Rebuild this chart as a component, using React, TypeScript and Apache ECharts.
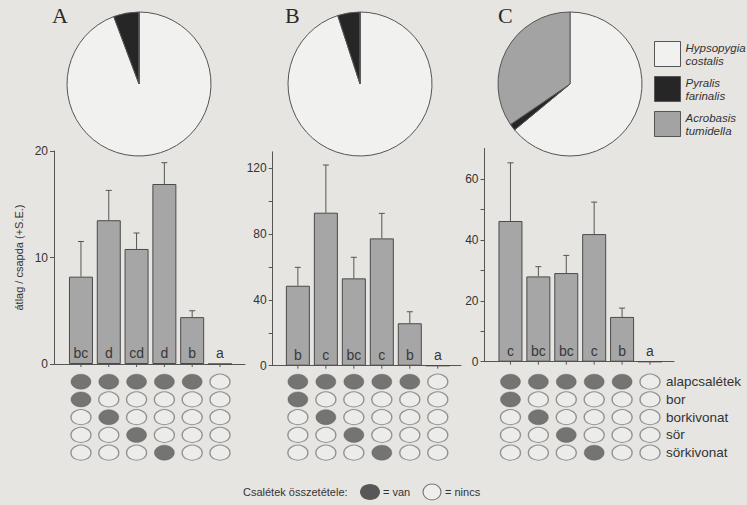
import React, { useEffect, useRef } from 'react';
import * as echarts from 'echarts';

// ---- data ----
const columns = [0, 1, 2, 3, 4, 5];
const meansA = [8.2, 13.5, 10.8, 16.9, 4.4, 0];
const seA = [3.3, 2.8, 1.5, 2.0, 0.6, 0];
const lettersA = ['bc', 'd', 'cd', 'd', 'b', 'a'];
const meansB = [48.6, 93, 53.1, 77.4, 25.8, 0];
const seB = [11.2, 29, 12.8, 15.2, 7, 0];
const lettersB = ['b', 'c', 'bc', 'c', 'b', 'a'];
const meansC = [46.2, 28, 29.1, 41.9, 14.7, 0];
const seC = [19.1, 3.2, 5.8, 10.5, 2.9, 0];
const lettersC = ['c', 'bc', 'bc', 'c', 'b', 'a'];
const species = ['Hypsopygia costalis', 'Pyralis farinalis', 'Acrobasis tumidella'];
const pieA = [94.3, 5.7, 0];
const pieB = [95, 5, 0];
const pieC = [64, 1.5, 34.5];
const ticksA = [0, 10, 20];
const labelsA = [0, 10, 20];
const ticksB = [0, 20, 40, 60, 80, 100, 120];
const labelsB = [0, 40, 80, 120];
const ticksC = [0, 10, 20, 30, 40, 50, 60];
const labelsC = [0, 20, 40, 60];
const baitRows = ['alapcsalétek', 'bor', 'borkivonat', 'sör', 'sörkivonat'];
const composition = [
  [1, 1, 1, 1, 1, 0],
  [1, 0, 0, 0, 0, 0],
  [0, 1, 0, 0, 0, 0],
  [0, 0, 1, 0, 0, 0],
  [0, 0, 0, 1, 0, 0],
];
const panelLetters = ['A', 'B', 'C'];
const yTitle = 'átlag / csapda (+S.E.)';
const legendTitle = 'Csalétek összetétele:';
const legendYes = '= van';
const legendNo = '= nincs';

const FONT = '"Liberation Sans", Arial, sans-serif';
const pieColors = ['#f1f1ef', '#262626', '#a3a3a3'];

export default function App() {
  const ref = useRef<HTMLDivElement>(null);
  useEffect(() => {
    if (!ref.current) return;
    const chart = echarts.init(ref.current, undefined, { renderer: 'svg' });

    const panels = [
      { means: meansA, se: seA, letters: lettersA, pie: pieA, ticks: ticksA, labels: labelsA,
        left: 54, right: 245, base: 364, top: 151, xmin: -0.97, xmax: 5.9, ymax: 20,
        pc: [139, 84], dotRight: 245, dotMax: 5.9 },
      { means: meansB, se: seB, letters: lettersB, pie: pieB, ticks: ticksB, labels: labelsB,
        left: 272.7, right: 461, base: 365.7, top: 151.85, xmin: -0.9, xmax: 5.83, ymax: 130,
        pc: [360, 84], dotRight: 461, dotMax: 5.83 },
      { means: meansC, se: seC, letters: lettersC, pie: pieC, ticks: ticksC, labels: labelsC,
        left: 484.5, right: 674, base: 361.7, top: 148.5, xmin: -0.93, xmax: 5.86, ymax: 70,
        pc: [570, 84], dotRight: 660, dotMax: 5.358 },
    ];

    const grid: any[] = [];
    const xAxis: any[] = [];
    const yAxis: any[] = [];
    const series: any[] = [];

    panels.forEach((p, k) => {
      grid.push({ left: p.left, top: p.top, width: p.right - p.left, height: p.base - p.top });
      xAxis.push({
        type: 'value', gridIndex: k, min: p.xmin, max: p.xmax,
        axisLine: { show: true, onZero: false, lineStyle: { color: '#555', width: 1 } },
        axisTick: { show: false }, axisLabel: { show: false }, splitLine: { show: false },
      });
      yAxis.push({
        type: 'value', gridIndex: k, min: 0, max: p.ymax, interval: p.ymax === 130 ? 20 : 10,
        name: k === 0 ? yTitle : '', nameLocation: 'middle', nameGap: 30, nameRotate: 90,
        nameTextStyle: { fontFamily: FONT, fontSize: 11, color: '#333' },
        axisLine: { show: true, onZero: false, lineStyle: { color: '#555', width: 1 } },
        axisTick: { show: true, length: 4, customValues: p.ticks, lineStyle: { color: '#555' } },
        axisLabel: {
          customValues: p.labels, fontFamily: FONT, fontSize: 12, color: '#333', margin: 6,
          formatter: (v: number) => (p.labels.includes(v) ? String(v) : ''),
        },
        splitLine: { show: false },
      });
      series.push({
        type: 'bar', xAxisIndex: k, yAxisIndex: k, barWidth: 24,
        data: columns.map((c) => [c, p.means[c]]),
        itemStyle: { color: '#a6a6a6', borderColor: '#4a4a4a', borderWidth: 1 },
        silent: true,
      });
      series.push({
        type: 'custom', xAxisIndex: k, yAxisIndex: k, silent: true, z: 5,
        data: columns.map((c) => [c, p.means[c], p.se[c]]),
        encode: { x: 0, y: 1 },
        renderItem: (params: any, api: any) => {
          const x = api.value(0), m = api.value(1), s = api.value(2);
          const i = params.dataIndex;
          const b = api.coord([x, 0]);
          const children: any[] = [
            { type: 'line', shape: { x1: b[0], y1: b[1], x2: b[0], y2: b[1] + 3 }, style: { stroke: '#555', lineWidth: 1 } },
            { type: 'text', x: b[0], y: b[1] - 11,
              style: { text: p.letters[i], fill: '#383838', font: `14px ${FONT}`, align: 'center', verticalAlign: 'middle' } },
          ];
          if (s > 0) {
            const p0 = api.coord([x, m]);
            const p1 = api.coord([x, m + s]);
            children.push({ type: 'line', shape: { x1: p0[0], y1: p0[1], x2: p1[0], y2: p1[1] }, style: { stroke: '#555', lineWidth: 1 } });
            children.push({ type: 'line', shape: { x1: p1[0] - 3, y1: p1[1], x2: p1[0] + 3, y2: p1[1] }, style: { stroke: '#555', lineWidth: 1 } });
          }
          return { type: 'group', children };
        },
      });
      series.push({
        type: 'pie', center: p.pc, radius: 72, startAngle: 90, clockwise: true,
        label: { show: false }, labelLine: { show: false }, silent: true,
        itemStyle: { borderColor: '#555', borderWidth: 1 },
        data: species.map((n, j) => ({ name: n, value: p.pie[j], itemStyle: { color: pieColors[j] } })),
      });
    });

    // dot matrix grids
    panels.forEach((p, k) => {
      const gi = 3 + k;
      grid.push({ left: p.left, top: 372.8, width: p.dotRight - p.left, height: 88.75 });
      xAxis.push({ type: 'value', gridIndex: gi, min: p.xmin, max: p.dotMax, show: false });
      yAxis.push({
        type: 'category', gridIndex: gi, data: baitRows, inverse: true,
        position: 'right', show: k === 2,
        axisLine: { show: false }, axisTick: { show: false },
        axisLabel: { show: k === 2, interval: 0, margin: 6, fontFamily: FONT, fontSize: 13.5, color: '#333' },
      });
      const data: any[] = [];
      composition.forEach((row, r) => row.forEach((v, c) => {
        data.push({
          value: [c, r, v],
          itemStyle: v
            ? { color: '#575757', borderColor: '#575757', borderWidth: 0.5 }
            : { color: '#eeeeec', borderColor: '#7a7a7a', borderWidth: 1.2 },
        });
      }));
      series.push({
        type: 'scatter', xAxisIndex: gi, yAxisIndex: gi, symbol: 'circle', symbolSize: [20, 15],
        silent: true, data,
      });
    });

    const graphic: any[] = [
      ...panelLetters.map((t, i) => ({
        type: 'text', left: [52, 285, 498][i], top: 4,
        style: { text: t, font: '22px "Liberation Serif", "Times New Roman", serif', fill: '#2a2a2a' },
      })),
      { type: 'text', left: 243, top: 486, style: { text: legendTitle, font: `11px ${FONT}`, fill: '#333' } },
      { type: 'ellipse', shape: { cx: 370, cy: 492, rx: 10, ry: 8 }, style: { fill: '#575757' } },
      { type: 'text', left: 383, top: 486, style: { text: legendYes, font: `11px ${FONT}`, fill: '#333' } },
      { type: 'ellipse', shape: { cx: 432, cy: 492, rx: 9, ry: 8 }, style: { fill: '#eeeeec', stroke: '#7a7a7a', lineWidth: 1.2 } },
      { type: 'text', left: 445, top: 486, style: { text: legendNo, font: `11px ${FONT}`, fill: '#333' } },
    ];

    chart.setOption({
      animation: false,
      backgroundColor: '#e7e5e1',
      grid, xAxis, yAxis, series, graphic,
      legend: {
        data: species, orient: 'vertical', left: 654, top: 41, icon: 'rect', padding: 0,
        itemWidth: 26, itemHeight: 25, itemGap: 9, selectedMode: false,
        itemStyle: { borderColor: '#555', borderWidth: 1 },
        formatter: (n: string) => n.replace(' ', '\n'),
        textStyle: { fontFamily: FONT, fontStyle: 'italic', fontSize: 11.5, lineHeight: 13, color: '#333' },
      },
    });
    return () => chart.dispose();
  }, []);
  return <div ref={ref} style={{ position: 'absolute', left: 0, top: 0, width: 747, height: 505 }} />;
}
